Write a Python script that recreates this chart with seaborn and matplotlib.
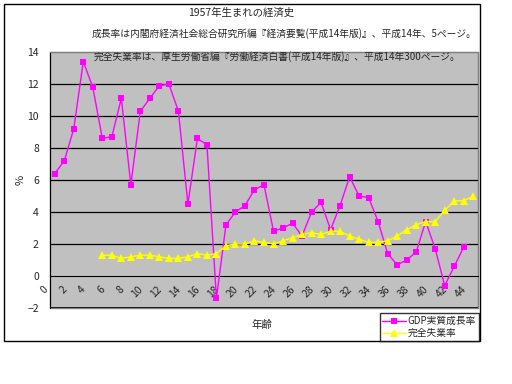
import numpy as np
import pandas as pd
import matplotlib
matplotlib.use("Agg")
import matplotlib.pyplot as plt
import matplotlib.transforms as mtransforms
from matplotlib.patches import Rectangle
import seaborn as sns

# data (age 0 = 1957)
ages = list(range(45))
gdp = [6.4, 7.2, 9.2, 13.4, 11.8, 8.6, 8.7, 11.1, 5.7, 10.3,
       11.1, 11.9, 12.0, 10.3, 4.5, 8.6, 8.2, -1.4, 3.2, 4.0,
       4.4, 5.4, 5.7, 2.8, 3.0, 3.3, 2.5, 4.0, 4.6, 2.9,
       4.4, 6.2, 5.0, 4.9, 3.4, 1.4, 0.7, 1.0, 1.5, 3.4,
       1.7, -0.6, 0.6, 1.8, None]
unemp = [None, None, None, None, None, 1.3, 1.3, 1.1, 1.2, 1.3,
         1.3, 1.2, 1.1, 1.1, 1.2, 1.4, 1.3, 1.4, 1.9, 2.0,
         2.0, 2.2, 2.1, 2.0, 2.2, 2.4, 2.6, 2.7, 2.6, 2.8,
         2.8, 2.5, 2.3, 2.1, 2.1, 2.2, 2.5, 2.9, 3.2, 3.4,
         3.4, 4.1, 4.7, 4.7, 5.0]

title = "1957年生まれの経済史"
note1 = "成長率は内閣府経済社会総合研究所編『経済要覧(平成14年版)』、平成14年、5ページ。"
note2 = "完全失業率は、厚生労働省編『労働経済白書(平成14年版)』、平成14年300ページ。"
gdp_name = "GDP実質成長率"
unemp_name = "完全失業率"

df = pd.DataFrame({"age": ages, "gdp": gdp, "unemp": unemp}).astype(float)

sns.set_style("white")
plt.rcParams['font.family'] = ['Noto Sans CJK JP', 'DejaVu Sans']

fig = plt.figure(figsize=(5.12, 3.84), dpi=100)
ax = fig.add_axes([50/512, 1-308/384, 428/512, 256/384])
ax.set_facecolor('#c0c0c0')

# gridlines
for v in range(2, 14, 2):
    ax.axhline(v, color='black', lw=0.9, zorder=1)

d1 = df.dropna(subset=["gdp"])
d2 = df.dropna(subset=["unemp"])
sns.lineplot(data=d1, x="age", y="gdp", ax=ax, color='#ff00ff', marker='s',
             markersize=5, markeredgewidth=0, lw=1, label=gdp_name, legend=False, zorder=3)
sns.lineplot(data=d2, x="age", y="unemp", ax=ax, color='#ffff00', marker='^',
             markersize=6, markeredgewidth=0, lw=1, label=unemp_name, legend=False, zorder=3)

ax.set_xlim(-0.5, 44.5)
ax.set_ylim(-2, 14)
ax.set_yticks(range(-2, 15, 2))
ax.tick_params(axis='y', labelsize=7.5, length=0, pad=8)

# x axis crossing at 0
for s in ['top', 'right']:
    ax.spines[s].set_color('#808080')
ax.spines['left'].set_color('black')
ax.spines['bottom'].set_position(('data', 0))
ax.spines['bottom'].set_color('black')
ax.add_patch(Rectangle((0, 0), 1, 1, transform=ax.transAxes, fill=False,
                       edgecolor='#808080', lw=1, zorder=0.5, clip_on=False))
ax.axhline(-2, color='black', lw=1.2, zorder=2)

ax.set_xticks(range(0, 45, 2))
ax.set_xticklabels([str(a) for a in range(0, 45, 2)], rotation=45, ha='right', va='top')
ax.set_xticks(np.arange(0.5, 44, 1), minor=True)
ax.tick_params(axis='x', which='major', length=0, labelsize=7.5, pad=6)
ax.tick_params(axis='x', which='minor', length=4, width=0.8, color='black', direction='out')
offset = mtransforms.ScaledTranslation(-5/100, 0, fig.dpi_scale_trans)
for lbl in ax.get_xticklabels():
    lbl.set_transform(lbl.get_transform() + offset)

ax.set_xlabel("")
ax.set_ylabel("%", fontsize=8, labelpad=1)
fig.text(262/512, 1-325/384, "年齢", ha='center', va='center', fontsize=7.5)

# outer chart border
fig.patches.append(Rectangle((4/512, 1-341/384), 476/512, 337/384, transform=fig.transFigure,
                             fill=False, edgecolor='black', lw=1))

fig.text(241/512, 1-13/384, title, ha='center', va='center', fontsize=7.5)
fig.text(92/512, 1-34/384, note1, ha='left', va='center', fontsize=7.0)
fig.text(94/512, 1-57/384, note2, ha='left', va='center', fontsize=7.0)

handles, labels = ax.get_legend_handles_labels()
leg = fig.legend(handles, labels, loc='lower right', bbox_to_anchor=(479/512, 1-341/384),
                 fontsize=7, frameon=True, fancybox=False, borderaxespad=0,
                 handlelength=2.4, handletextpad=0.2, borderpad=0.3, labelspacing=0.2)
leg.get_frame().set_edgecolor('black')
leg.get_frame().set_linewidth(1)

fig.savefig("out.png", dpi=100, facecolor='white')
